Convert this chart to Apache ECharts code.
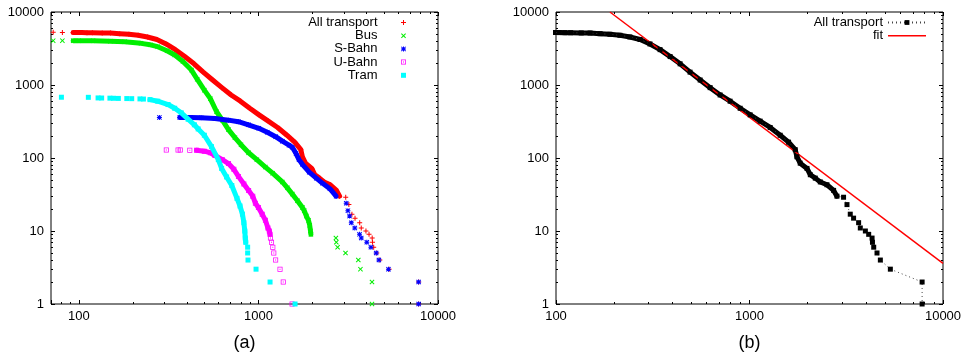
<!DOCTYPE html>
<html>
<head>
<meta charset="utf-8">
<script src="https://cdn.jsdelivr.net/npm/echarts@6.0.0/dist/echarts.min.js"></script>
<style>
  html, body { margin: 0; padding: 0; background: #fff; }
  #chart { width: 963px; height: 360px; }
</style>
</head>
<body>
<div id="chart"></div>
<script>
// tick values
const xTicksA = [100, 1000, 10000];
const xMinorA = [70, 80, 90, 200, 300, 400, 500, 600, 700, 800, 900, 2000, 3000, 4000, 5000, 6000, 7000, 8000, 9000];
const xTicksB = [100, 1000, 10000];
const xMinorB = [200, 300, 400, 500, 600, 700, 800, 900, 2000, 3000, 4000, 5000, 6000, 7000, 8000, 9000];
const yTicks = [1, 10, 100, 1000, 10000];
const yMinor = [2, 3, 4, 5, 6, 7, 8, 9, 20, 30, 40, 50, 60, 70, 80, 90, 200, 300, 400, 500, 600, 700, 800, 900,
  2000, 3000, 4000, 5000, 6000, 7000, 8000, 9000];

// All transport: dense run + isolated points (head / tail)
const allDense = [[93, 5240], [98, 5230], [104, 5220], [111, 5210], [119, 5200], [135, 5170], [150, 5150],
  [169, 5050], [190, 4950], [214, 4800], [241, 4550], [272, 4200], [306, 3650], [345, 3050], [389, 2450],
  [438, 1950], [493, 1500], [556, 1170], [626, 920], [705, 730], [794, 600], [895, 480], [1008, 390],
  [1135, 320], [1279, 262], [1441, 205], [1592, 165], [1723, 130], [1758, 104], [1828, 85], [1982, 72],
  [2062, 59], [2188, 53], [2322, 47], [2513, 43], [2721, 36], [2831, 30]];
const allLoose = [[72, 5270], [81, 5250], [3063, 29], [3190, 23], [3317, 17], [3451, 15], [3664, 13],
  [3738, 11], [3970, 10], [4130, 9], [4300, 8], [4320, 7], [4385, 6], [4560, 5], [4745, 4], [5345, 3],
  [7800, 2], [7800, 1]];

// Bus
const busDense = [[93, 4050], [100, 4040], [120, 4030], [150, 3990], [180, 3920], [222, 3720], [250, 3550],
  [275, 3350], [310, 2950], [342, 2575], [380, 2100], [424, 1600], [456, 1200], [500, 850], [540, 650],
  [585, 430], [630, 330], [681, 245], [740, 190], [800, 152], [882, 118], [980, 95], [1093, 75], [1200, 62],
  [1358, 47], [1450, 39], [1545, 32], [1650, 26], [1758, 21], [1800, 19], [1850, 16], [1900, 14], [1930, 12],
  [1950, 10], [1960, 9]];
const busLoose = [[72, 4050], [81, 4050], [2700, 8], [2715, 7], [2760, 6], [3055, 5], [3600, 4], [3700, 3],
  [4290, 2], [4290, 1]];

// S-Bahn
const sbahnDense = [[365, 360], [420, 358], [480, 355], [573, 348], [680, 330], [774, 314], [880, 285],
  [1005, 255], [1120, 225], [1248, 196], [1360, 170], [1480, 150], [1545, 140], [1620, 115], [1683, 95],
  [1757, 82], [1918, 64], [2100, 53], [2277, 45], [2500, 38], [2708, 30]];
const sbahnLoose = [[281, 360], [3083, 24], [3150, 19], [3218, 16], [3290, 13], [3440, 11], [3656, 9],
  [3738, 8], [4014, 7], [4230, 6], [4527, 5], [4688, 4], [5300, 3], [7800, 2], [7800, 1]];

// U-Bahn
const ubahnDense = [[452, 128], [500, 124], [540, 118], [573, 108], [630, 95], [681, 84], [730, 70],
  [774, 56], [830, 44], [882, 36], [930, 30], [962, 24], [1000, 21], [1050, 17], [1094, 14], [1130, 11],
  [1150, 10], [1160, 9]];
const ubahnLoose = [[307, 129], [357, 129], [367, 129], [415, 128], [1167, 8], [1183, 7], [1203, 6],
  [1218, 5], [1247, 4], [1319, 3], [1375, 2], [1540, 1]];

// Tram
const tramDense = [[249, 630], [275, 600], [314, 540], [342, 480], [372, 415], [406, 340], [440, 285],
  [462, 250], [500, 205], [548, 143], [598, 95], [624, 72], [665, 55], [711, 42], [760, 28], [790, 22],
  [815, 17], [830, 13], [840, 10], [845, 8], [850, 7]];
const tramLoose = [[80, 680], [113, 678], [128, 665], [134, 663], [149, 660], [156, 658], [166, 655],
  [185, 652], [197, 650], [219, 645], [229, 642], [871, 6], [871, 5], [875, 4], [970, 3], [1161, 2], [1600, 1]];

// power-law fit, panel (b)
const fitLine = [[190, 10000], [10000, 3.6]];

const fontFamily = 'Liberation Sans, Arial, Helvetica, sans-serif';
const sym = {
  plus: 'path://M4,0H6V4H10V6H6V10H4V6H0V4H4Z',
  cross: 'path://M0,1.4L1.4,0L5,3.6L8.6,0L10,1.4L6.4,5L10,8.6L8.6,10L5,6.4L1.4,10L0,8.6L3.6,5Z',
  star: 'path://M4,0H6V4H10V6H6V10H4V6H0V4H4Z M0,1.4L1.4,0L5,3.6L8.6,0L10,1.4L6.4,5L10,8.6L8.6,10L5,6.4L1.4,10L0,8.6L3.6,5Z',
  boxDot: 'path://M0,0H10V10H0Z M1.5,8.5H8.5V1.5H1.5Z M4,4H6V6H4Z',
  square: 'path://M0,0H10V10H0Z'
};

// major axis (with labels on bottom/left) + minor axis, mirrored on top/right
function makeAxes(dim, gridIndex, min, max, majors, minors, name) {
  const sides = dim === 'x' ? ['bottom', 'top'] : ['left', 'right'];
  const out = [];
  sides.forEach(function (side, s) {
    out.push({
      type: 'log', logBase: 10, gridIndex: gridIndex, position: side, min: min, max: max,
      name: s === 0 ? name : '',
      nameLocation: 'middle',
      nameGap: 30,
      nameTextStyle: { color: '#000', fontSize: 18, fontFamily: fontFamily },
      axisLine: { show: false },
      axisTick: { show: true, inside: true, length: 4, lineStyle: { color: '#000', width: 1 } },
      axisLabel: {
        show: s === 0,
        margin: dim === 'x' ? 6 : 7,
        color: '#000',
        fontSize: 13,
        fontFamily: fontFamily,
        formatter: function (v) {
          const r = Math.round(v);
          return majors.indexOf(r) >= 0 ? String(r) : '';
        }
      },
      splitLine: { show: false }
    });
    out.push({
      type: 'log', logBase: 10, gridIndex: gridIndex, position: side, min: min, max: max,
      axisLine: { show: false },
      axisTick: { show: true, inside: true, length: 2, customValues: minors, lineStyle: { color: '#000', width: 1 } },
      axisLabel: { show: false },
      splitLine: { show: false }
    });
  });
  return out;
}

function band(data, color, xi, yi) {
  return {
    name: '_band', type: 'line', xAxisIndex: xi, yAxisIndex: yi, data: data,
    symbol: 'none', showSymbol: false, silent: true, animation: false,
    lineStyle: { color: color, width: 5, cap: 'round', join: 'round' }
  };
}

function points(name, data, color, symbol) {
  return {
    name: name, type: 'scatter', xAxisIndex: 0, yAxisIndex: 0, data: data,
    symbol: symbol, symbolSize: 5, silent: true,
    itemStyle: { color: color, opacity: 1 }
  };
}

const allSorted = allLoose.concat(allDense).sort(function (a, b) { return a[0] - b[0] || b[1] - a[1]; });

const chart = echarts.init(document.getElementById('chart'), null, { renderer: 'canvas', width: 963, height: 360 });

chart.setOption({
  animation: false,
  backgroundColor: '#fff',
  grid: [
    { left: 51, right: 525, top: 12, bottom: 56, show: true, borderColor: '#000', borderWidth: 1, backgroundColor: 'transparent', outerBoundsMode: 'none' },
    { left: 556, right: 20, top: 12, bottom: 56, show: true, borderColor: '#000', borderWidth: 1, backgroundColor: 'transparent', outerBoundsMode: 'none' }
  ],
  xAxis: makeAxes('x', 0, 70, 10000, xTicksA, xMinorA, '(a)').concat(makeAxes('x', 1, 100, 10000, xTicksB, xMinorB, '(b)')),
  yAxis: makeAxes('y', 0, 1, 10000, yTicks, yMinor, '').concat(makeAxes('y', 1, 1, 10000, yTicks, yMinor, '')),
  legend: [
    {
      orient: 'vertical', align: 'right', right: 557, top: 16, padding: 0,
      itemWidth: 42, itemHeight: 5, itemGap: 0.2,
      textStyle: { color: '#000', fontSize: 13, fontFamily: fontFamily, lineHeight: 13 },
      selectedMode: false,
      data: ['All transport', 'Bus', 'S-Bahn', 'U-Bahn', 'Tram']
    },
    {
      orient: 'vertical', align: 'right', right: 36, top: 16, padding: 0,
      itemWidth: 38, itemHeight: 6, itemGap: 0.2,
      textStyle: { color: '#000', fontSize: 13, fontFamily: fontFamily, lineHeight: 13 },
      selectedMode: false,
      formatter: function (n) { return n.replace(' (b)', ''); },
      data: ['All transport (b)', { name: 'fit', icon: 'path://M0,0H40V1.6H0Z' }]
    }
  ],
  series: [
    band(allDense, '#ff0000', 0, 0),
    points('All transport', allLoose.concat(allDense), '#ff0000', sym.plus),
    band(busDense, '#00ee00', 0, 0),
    points('Bus', busLoose.concat(busDense), '#00ee00', sym.cross),
    band(sbahnDense, '#0000ff', 0, 0),
    points('S-Bahn', sbahnLoose.concat(sbahnDense), '#0000ff', sym.star),
    band(ubahnDense, '#ff00ff', 0, 0),
    points('U-Bahn', ubahnLoose.concat(ubahnDense), '#ff00ff', sym.boxDot),
    band(tramDense, '#00ffff', 0, 0),
    points('Tram', tramLoose.concat(tramDense), '#00ffff', sym.square),

    band(allDense, '#000', 4, 4),
    {
      name: 'All transport (b)', type: 'line', xAxisIndex: 4, yAxisIndex: 4, data: allSorted,
      symbol: sym.square, symbolSize: 5, showSymbol: true, silent: true,
      itemStyle: { color: '#000' },
      lineStyle: { color: '#444', width: 1, type: [1, 3] }
    },
    {
      name: 'fit', type: 'line', xAxisIndex: 4, yAxisIndex: 4, data: fitLine,
      symbol: 'none', showSymbol: false, silent: true, color: '#ff0000',
      itemStyle: { color: '#ff0000' },
      lineStyle: { color: '#ff0000', width: 1.5 }
    }
  ]
});
</script>
</body>
</html>
